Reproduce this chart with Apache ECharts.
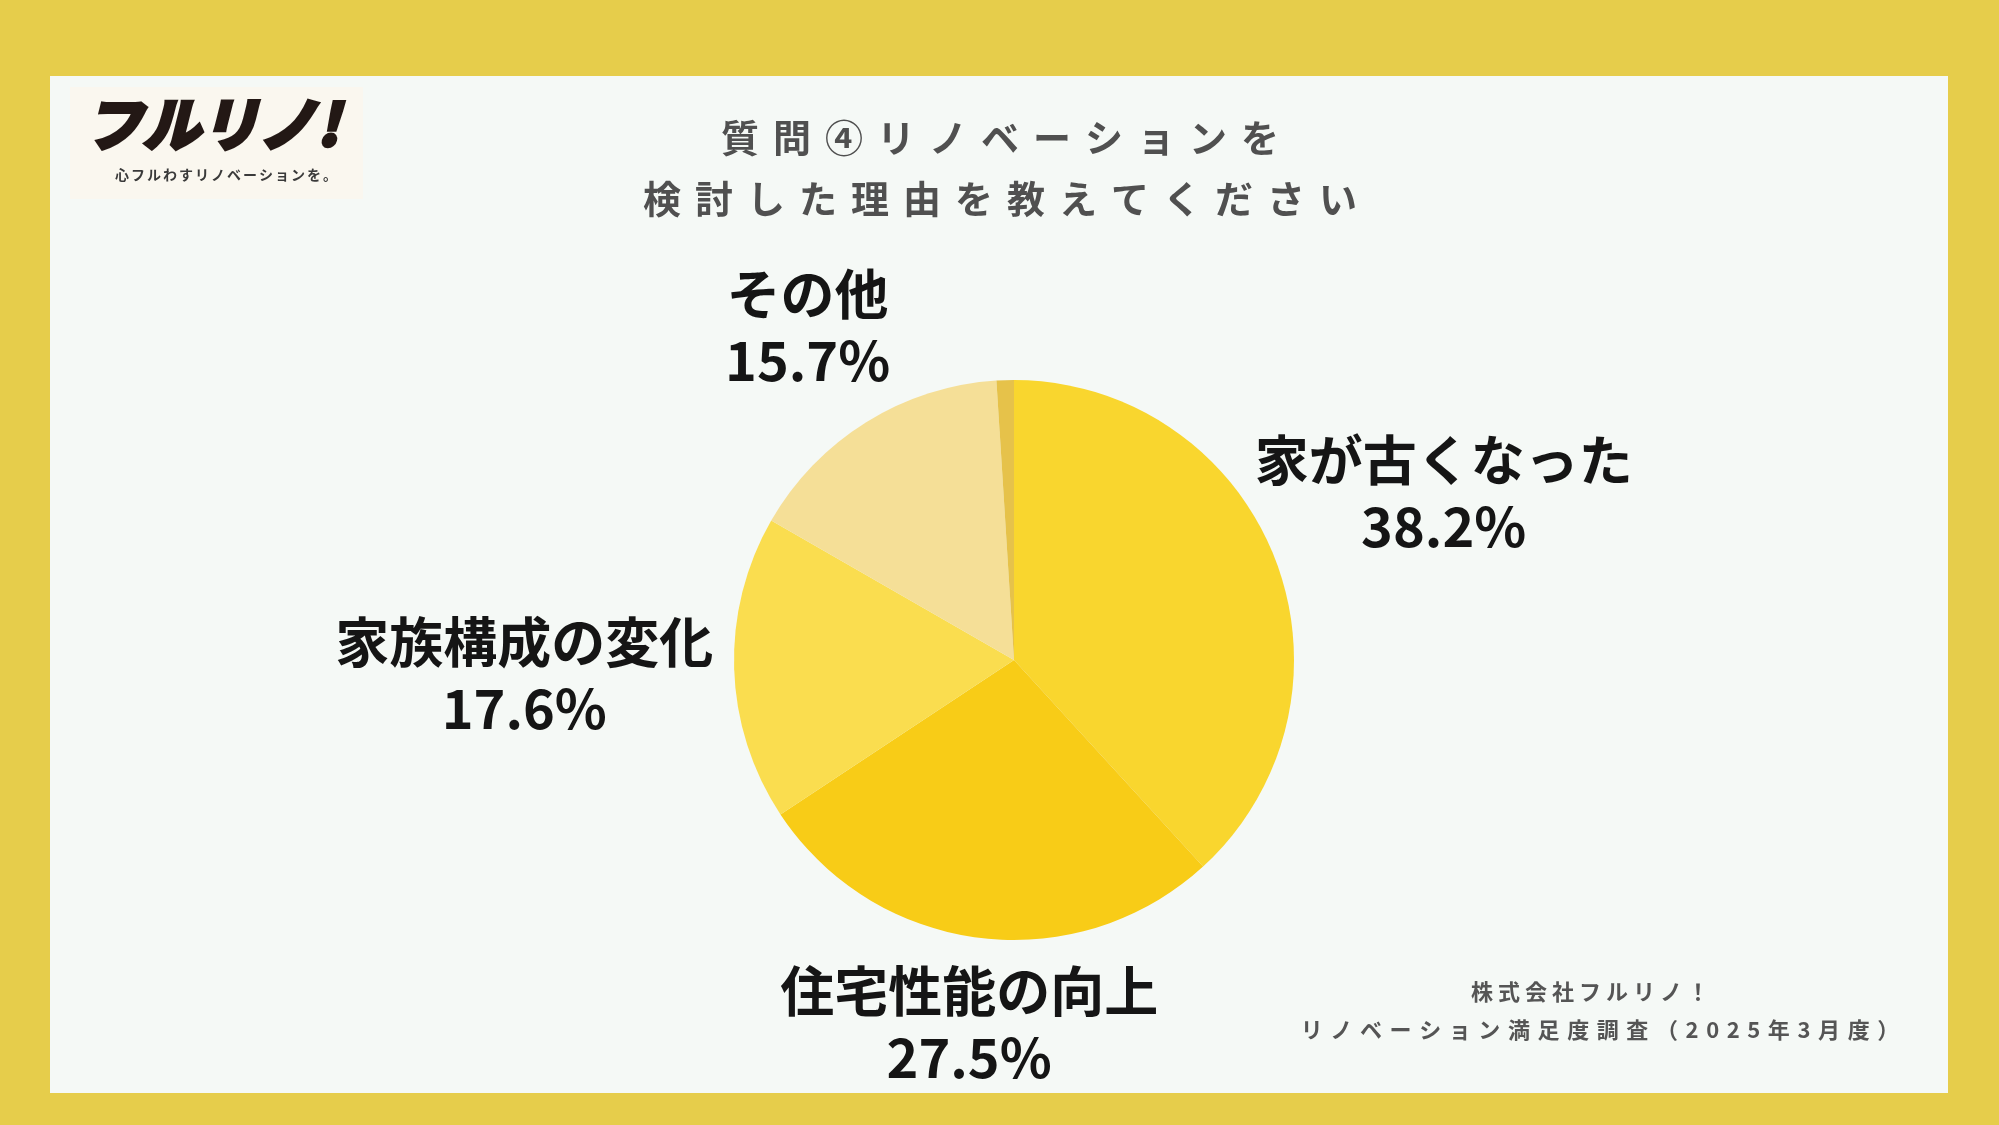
<!DOCTYPE html>
<html>
<head>
<meta charset="utf-8">
<script src="https://cdn.jsdelivr.net/npm/echarts@6/dist/echarts.min.js"></script>
<style>
html,body{margin:0;padding:0;background:#E6CD4B;}
#chart{width:1999px;height:1125px;}
</style>
</head>
<body>
<div id="chart"></div>
<script>
// ---- data ----
const CATEGORIES = ['家が古くなった', '住宅性能の向上', '家族構成の変化', 'その他', ''];
const VALUES = [38.2, 27.5, 17.6, 15.7, 1.0];
const SHOW_LABEL = [true, true, true, true, false];
const TITLE_LINES = ['質問④リノベーションを', '検討した理由を教えてください'];
const FOOTER_LINE1 = '株式会社フルリノ！';
const FOOTER_LINE2 = 'リノベーション満足度調査（2025年3月度）';
const LOGO_TEXT = 'フルリノ!';
const LOGO_SUB = '心フルわすリノベーションを。';

// ---- style ----
const COLORS = ['#F9D62E', '#F8CC17', '#FADD4F', '#F5DF97', '#E6C24A'];
const LABEL_DIST = [461, 367, 490, 391];
const PIE_CENTER = [1014, 660];
const PIE_R = 280;
const FONT = '"Noto Sans CJK JP", "Noto Sans", sans-serif';

const total = VALUES.reduce((a, b) => a + b, 0);
function midAngle(i) {
  let cum = 0;
  for (let k = 0; k < i; k++) cum += VALUES[k];
  return (90 - 360 * (cum + VALUES[i] / 2) / total) * Math.PI / 180;
}
function spaced(lines, tag) {
  return lines.map(l => Array.from(l).map(c => '{' + tag + '|' + c + '}').join('')).join('\n');
}

const chart = echarts.init(document.getElementById('chart'), null, {renderer: 'canvas'});
chart.setOption({
  backgroundColor: '#E6CD4B',
  animation: false,
  graphic: [
    {type: 'rect', z: -10, silent: true, shape: {x: 50, y: 76, width: 1898, height: 1017}, style: {fill: '#F5F9F6'}},
    {type: 'rect', z: -5, silent: true, shape: {x: 70, y: 87, width: 293, height: 112}, style: {fill: '#FAF7EF'}},
    {type: 'text', z: 5, silent: true, x: 212, y: 124, style: {
      text: LOGO_TEXT, align: 'center', verticalAlign: 'middle', fill: '#231815',
      stroke: '#231815', lineWidth: 3,
      font: 'italic 900 58px ' + FONT
    }},
    {type: 'text', z: 5, silent: true, x: 226, y: 175, style: {
      text: spaced([LOGO_SUB], 's'), align: 'center', verticalAlign: 'middle',
      rich: {s: {fontSize: 14, fontWeight: 'bold', fontFamily: FONT, fill: '#3a3a3a', padding: [0, 1]}}
    }},
    {type: 'text', z: 5, silent: true, x: 1000, y: 168, style: {
      text: spaced(TITLE_LINES, 'c'), align: 'center', verticalAlign: 'middle',
      rich: {c: {fontSize: 38, fontWeight: 'bold', fontFamily: FONT, fill: '#505050', padding: [0, 7], lineHeight: 61, align: 'center'}}
    }},
    {type: 'text', z: 5, silent: true, x: 1590, y: 992, style: {
      text: spaced([FOOTER_LINE1], 'f'), align: 'center', verticalAlign: 'middle',
      rich: {f: {fontSize: 22, fontWeight: 'bold', fontFamily: FONT, fill: '#555555', padding: [0, 2.5], lineHeight: 38, align: 'center'}}
    }},
    {type: 'text', z: 5, silent: true, x: 1600, y: 1030, style: {
      text: spaced([FOOTER_LINE2], 'g'), align: 'center', verticalAlign: 'middle',
      rich: {g: {fontSize: 22, fontWeight: 'bold', fontFamily: FONT, fill: '#555555', padding: [0, 3.8], lineHeight: 38, align: 'center'}}
    }}
  ],
  series: [{
    type: 'pie',
    center: PIE_CENTER,
    radius: PIE_R,
    startAngle: 90,
    clockwise: true,
    avoidLabelOverlap: false,
    silent: true,
    emphasis: {disabled: true},
    itemStyle: {borderWidth: 0},
    label: {
      show: true,
      position: 'outside',
      formatter: p => '{n|' + p.name + '}\n{v|' + p.value.toFixed(1) + '%}',
      rich: {
        n: {fontSize: 54, fontWeight: 'bold', fontFamily: FONT, color: '#151515', lineHeight: 66, align: 'center'},
        v: {fontSize: 54, fontWeight: 'bold', fontFamily: FONT, color: '#151515', lineHeight: 66, align: 'center'}
      }
    },
    labelLine: {show: false},
    labelLayout: function (p) {
      const i = p.dataIndex;
      const a = midAngle(i);
      const d = LABEL_DIST[i] || PIE_R;
      return {
        x: PIE_CENTER[0] + d * Math.cos(a),
        y: PIE_CENTER[1] - d * Math.sin(a),
        align: 'center',
        verticalAlign: 'middle'
      };
    },
    data: CATEGORIES.map((name, i) => ({
      name: name,
      value: VALUES[i],
      itemStyle: {color: COLORS[i]},
      label: {show: SHOW_LABEL[i]}
    }))
  }]
});
</script>
</body>
</html>
